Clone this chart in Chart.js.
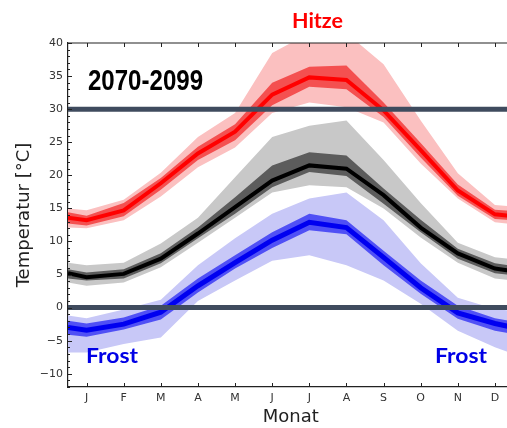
<!DOCTYPE html>
<html>
<head>
<meta charset="utf-8">
<script src="https://cdn.jsdelivr.net/npm/chart.js@4.4.0/dist/chart.umd.min.js"></script>
<style>
  html, body { margin: 0; padding: 0; background: #fff; overflow: hidden; }
  #box { width: 516px; height: 428px; }
</style>
</head>
<body>
<div id="box"><canvas id="klima"></canvas></div>
<script>
// Monatsachse (0.5 / 12.5 = Rand links/rechts)
const monate = ['J', 'F', 'M', 'A', 'M', 'J', 'J', 'A', 'S', 'O', 'N', 'D'];
const monatPos = [1, 2, 3, 4, 5, 6, 7, 8, 9, 10, 11, 12];
const xWerte = [0.5, 1, 2, 3, 4, 5, 6, 7, 8, 9, 10, 11, 12, 12.5];
const yTicks = [-10, -5, 0, 5, 10, 15, 20, 25, 30, 35, 40];
const schwellen = [30, 0];

// Hitze (rot)
const rotMittel   = [13.6, 13.2, 14.7, 18.8, 23.3, 26.6, 32.2, 34.8, 34.4, 29.8, 23.8, 17.7, 14.1, 13.8];
const rotInnenHi  = [14.4, 13.9, 15.8, 19.6, 24.3, 27.7, 34.0, 36.4, 36.6, 31.0, 24.9, 18.6, 14.8, 14.6];
const rotInnenLo  = [12.7, 12.4, 13.8, 17.8, 22.3, 25.3, 30.6, 33.4, 33.0, 28.8, 22.7, 16.9, 13.4, 13.2];
const rotAussenHi = [15.0, 14.7, 16.3, 20.4, 25.8, 29.4, 38.5, 41.5, 41.5, 36.8, 28.3, 20.3, 15.5, 15.3];
const rotAussenLo = [12.1, 12.0, 13.2, 16.8, 21.2, 24.2, 29.4, 31.0, 30.3, 28.0, 21.8, 16.5, 12.9, 12.6];

// Mittel (schwarz)
const schwMittel   = [5.2, 4.6, 5.1, 7.4, 11.2, 15.2, 19.2, 21.5, 21.0, 17.0, 12.1, 8.2, 5.9, 5.5];
const schwInnenHi  = [5.8, 5.3, 5.8, 8.2, 12.1, 16.7, 21.5, 23.5, 23.0, 18.0, 13.3, 8.9, 6.7, 6.3];
const schwInnenLo  = [4.4, 4.1, 4.4, 6.7, 10.5, 14.2, 18.2, 20.5, 19.9, 15.7, 11.4, 7.4, 5.2, 4.9];
const schwAussenHi = [6.8, 6.4, 6.8, 9.7, 13.6, 19.7, 25.8, 27.5, 28.3, 22.3, 15.8, 9.8, 7.6, 7.3];
const schwAussenLo = [3.8, 3.3, 3.8, 6.1, 9.8, 13.6, 17.4, 18.5, 18.2, 15.0, 10.6, 6.8, 4.4, 4.1];

// Frost (blau)
const blauMittel   = [-3.0, -3.4, -2.5, -0.7, 3.3, 6.8, 10.2, 12.9, 12.1, 7.6, 3.0, -0.8, -2.4, -3.0];
const blauInnenHi  = [-2.0, -2.4, -1.5, 0.3, 4.4, 7.9, 11.4, 14.2, 13.2, 8.6, 4.1, 0.3, -1.6, -2.1];
const blauInnenLo  = [-4.1, -4.4, -3.3, -1.8, 2.3, 5.9, 9.0, 11.7, 11.1, 6.4, 2.1, -1.7, -3.5, -4.0];
const blauAussenHi = [-1.2, -1.6, -0.3, 1.2, 6.4, 10.5, 14.2, 16.5, 17.4, 13.2, 6.7, 1.5, -0.2, -0.5];
const blauAussenLo = [-6.8, -6.8, -5.5, -4.5, 1.0, 4.1, 7.1, 7.9, 6.4, 4.1, 0.6, -3.5, -6.0, -7.0];

function punkte(werte) {
    return werte.map((v, i) => ({ x: xWerte[i], y: v }));
}

// Band = obere Kurve, die bis zur nächsten Kurve gefüllt wird
function band(hi, lo, farbe, order) {
    return [
        { data: punkte(hi), borderWidth: 0, borderColor: 'transparent', backgroundColor: farbe, fill: '+1', order },
        { data: punkte(lo), borderWidth: 0, borderColor: 'transparent', fill: false, order }
    ];
}

function linie(werte, farbe, breite, order) {
    return { data: punkte(werte), borderColor: farbe, borderWidth: breite, fill: false, order };
}

const datasets = [
    ...band(rotAussenHi, rotAussenLo, '#fbc0c0', 30),
    ...band(schwAussenHi, schwAussenLo, '#c8c8c8', 30),
    ...band(blauAussenHi, blauAussenLo, '#c8c8f7', 30),
    ...band(rotInnenHi, rotInnenLo, '#f45050', 20),
    ...band(schwInnenHi, schwInnenLo, '#5c5c5c', 20),
    ...band(blauInnenHi, blauInnenLo, '#5050f5', 20),
    linie(rotMittel, '#ff0000', 4, 10),
    linie(schwMittel, '#000000', 4, 10),
    linie(blauMittel, '#0000f0', 5, 10),
    ...schwellen.map(s => ({
        data: [{ x: xWerte[0], y: s }, { x: xWerte[xWerte.length - 1], y: s }],
        borderColor: '#3f4b5e', borderWidth: 5, fill: false, order: 0
    }))
];

// Text im Bild auf eine Breite einpassen
function textEinpassen(ctx, text, x, basis, breite, font, farbe) {
    ctx.font = font;
    const w = ctx.measureText(text).width;
    ctx.save();
    ctx.translate(x, basis);
    ctx.scale(breite / w, 1);
    ctx.fillStyle = farbe;
    ctx.textAlign = 'left';
    ctx.textBaseline = 'alphabetic';
    ctx.fillText(text, 0, 0);
    ctx.restore();
}

const rahmenUndText = {
    id: 'rahmenUndText',
    afterDraw(chart) {
        const { ctx, chartArea: a, scales: { x, y } } = chart;
        ctx.save();
        ctx.strokeStyle = '#222';
        ctx.lineWidth = 1.2;
        ctx.beginPath();
        ctx.moveTo(a.left, a.top);
        ctx.lineTo(a.right, a.top);
        ctx.stroke();

        // Ticks nach innen
        ctx.lineWidth = 1;
        ctx.beginPath();
        monatPos.forEach(m => {
            const px = Math.round(x.getPixelForValue(m)) + 0.5;
            ctx.moveTo(px, a.bottom); ctx.lineTo(px, a.bottom - 4);
            ctx.moveTo(px, a.top); ctx.lineTo(px, a.top + 4);
        });
        for (let v = -12; v <= 40; v++) {
            const py = Math.round(y.getPixelForValue(v)) + 0.5;
            const len = v % 5 === 0 ? 4 : 2;
            ctx.moveTo(a.left, py); ctx.lineTo(a.left + len, py);
        }
        ctx.stroke();
        ctx.restore();

        textEinpassen(ctx, 'Hitze', 292, 28, 51, 'bold 21px Lato', '#ff0000');
        textEinpassen(ctx, '2070-2099', 88, 90, 115, 'bold 30px "Liberation Sans"', '#000');
        textEinpassen(ctx, 'Frost', 86, 363, 52, 'bold 21px Lato', '#0000e6');
        textEinpassen(ctx, 'Frost', 435, 363, 52, 'bold 21px Lato', '#0000e6');
    }
};

new Chart(document.getElementById('klima'), {
    type: 'line',
    data: { datasets },
    options: {
        responsive: true,
        maintainAspectRatio: false,
        animation: false,
        layout: { padding: { top: 43, right: 2.5, left: 0, bottom: 0 } },
        plugins: { legend: { display: false }, tooltip: { enabled: false } },
        elements: { point: { radius: 0 }, line: { tension: 0 } },
        scales: {
            x: {
                type: 'linear',
                min: 0.5,
                max: 12.5,
                afterBuildTicks: s => { s.ticks = monatPos.map(v => ({ value: v })); },
                afterFit: s => { s.height = 41; },
                ticks: {
                    callback: v => monate[v - 1],
                    color: '#333',
                    font: { family: 'DejaVu Sans', size: 11 },
                    padding: 5,
                    maxRotation: 0,
                    autoSkip: false
                },
                grid: { display: false, drawTicks: false },
                border: { display: true, color: '#222', width: 1.2 },
                title: { display: true, text: 'Monat', color: '#222', font: { family: 'DejaVu Sans', size: 18 }, padding: 0 }
            },
            y: {
                min: -12,
                max: 40,
                afterBuildTicks: s => { s.ticks = yTicks.map(v => ({ value: v })); },
                afterFit: s => { s.width = 68; },
                ticks: {
                    callback: v => v < 0 ? '\u2212' + Math.abs(v) : String(v),
                    color: '#333',
                    font: { family: 'DejaVu Sans', size: 11 },
                    padding: 5
                },
                grid: { display: false, drawTicks: false },
                border: { display: true, color: '#222', width: 1.2 },
                title: { display: true, text: 'Temperatur [°C]', color: '#222', font: { family: 'DejaVu Sans', size: 18 }, padding: { top: 14, bottom: 0 } }
            }
        }
    },
    plugins: [rahmenUndText]
});
</script>
</body>
</html>
